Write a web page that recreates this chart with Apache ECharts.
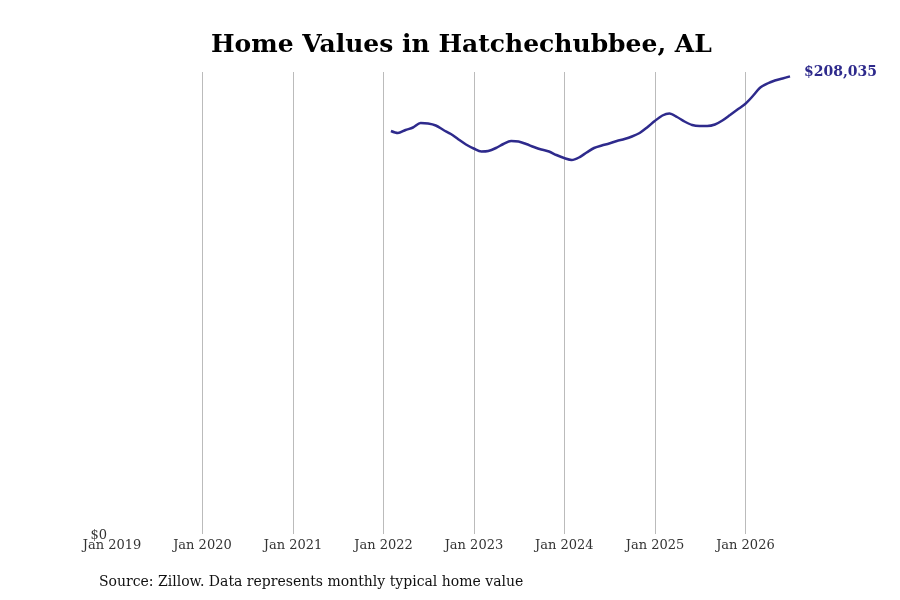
<!DOCTYPE html>
<html>
<head>
<meta charset="utf-8">
<script src="https://cdn.jsdelivr.net/npm/echarts@6/dist/echarts.min.js"></script>
<style>
html,body{margin:0;padding:0;background:#fff;}
#main{width:900px;height:600px;}
</style>
</head>
<body>
<div id="main"></div>
<script>
// month-end dates of the Zillow series
var months = [
  '2022-01-31','2022-02-28','2022-03-31','2022-04-30','2022-05-31','2022-06-30',
  '2022-07-31','2022-08-31','2022-09-30','2022-10-31','2022-11-30','2022-12-31',
  '2023-01-31','2023-02-28','2023-03-31','2023-04-30','2023-05-31','2023-06-30',
  '2023-07-31','2023-08-31','2023-09-30','2023-10-31','2023-11-30','2023-12-31',
  '2024-01-31','2024-02-29','2024-03-31','2024-04-30','2024-05-31','2024-06-30',
  '2024-07-31','2024-08-31','2024-09-30','2024-10-31','2024-11-30','2024-12-31',
  '2025-01-31','2025-02-28','2025-03-31','2025-04-30','2025-05-31','2025-06-30',
  '2025-07-31','2025-08-31','2025-09-30','2025-10-31','2025-11-30','2025-12-31',
  '2026-01-31','2026-02-28','2026-03-31','2026-04-30','2026-05-31','2026-06-30'
];
var homeValues = [
  183182,182273,183636,184773,186818,186591,185682,183636,181818,179318,177045,175227,
  173864,174091,175455,177273,178636,178409,177273,175909,174773,173864,172273,170909,
  170000,171136,173409,175455,176591,177500,178636,179545,180682,182273,184773,187727,
  190227,191136,189545,187500,185909,185455,185455,186136,187955,190455,192955,195455,
  199091,202727,204773,206136,207045,208035
];
// vertical guide lines (no line at the axis start)
var gridYears = ['2020-01-01','2021-01-01','2022-01-01','2023-01-01','2024-01-01','2025-01-01','2026-01-01'];
var xStart = '2019-01-01';
var xEnd = '2026-06-30';
var yMax = 210000;

var seriesData = [];
for (var i = 0; i < months.length; i++) {
  seriesData.push([months[i], homeValues[i]]);
}
var guideLines = [];
for (var j = 0; j < gridYears.length; j++) {
  guideLines.push({xAxis: gridYears[j]});
}

var lineColor = '#2e2a8c';
var serif = '"DejaVu Serif", serif';

var myChart = echarts.init(document.getElementById('main'));
var option = {
  backgroundColor: '#fff',
  animation: false,
  title: {
    text: 'Home Values in Hatchechubbee, AL',
    left: 206,
    top: 28,
    textStyle: {fontFamily: serif, fontSize: 25, fontWeight: 'bold', color: '#000'}
  },
  grid: {left: 112, right: 110, top: 72, bottom: 66, containLabel: false},
  xAxis: {
    type: 'time',
    min: xStart,
    max: xEnd,
    minInterval: 365 * 86400000,
    maxInterval: 366 * 86400000,
    axisLine: {show: false},
    axisTick: {show: false},
    axisLabel: {
      fontFamily: serif, fontSize: 13, color: '#333', margin: 5,
      showMaxLabel: false,
      formatter: function (v) { return 'Jan ' + new Date(v).getFullYear(); }
    },
    splitLine: {show: false}
  },
  yAxis: {
    type: 'value',
    min: 0,
    max: yMax,
    interval: yMax,
    axisLine: {show: false},
    axisTick: {show: false},
    splitLine: {show: false},
    axisLabel: {
      fontFamily: serif, fontSize: 13, color: '#333', margin: 5,
      showMaxLabel: false,
      verticalAlign: 'bottom',
      padding: [0, 0, -8, 0],
      formatter: function (v) { return v === 0 ? '$0' : ''; }
    }
  },
  series: [{
    type: 'line',
    data: seriesData,
    smooth: 0.3,
    showSymbol: false,
    z: 3,
    lineStyle: {color: lineColor, width: 2.5},
    endLabel: {
      show: true,
      formatter: function (p) { return '$' + p.value[1].toLocaleString('en-US'); },
      fontFamily: serif, fontSize: 14, fontWeight: 'bold', color: lineColor,
      distance: 14,
      offset: [0, -4]
    },
    markLine: {
      silent: true,
      symbol: 'none',
      label: {show: false},
      z: 1,
      lineStyle: {color: '#bbb', width: 1, type: 'solid'},
      emphasis: {disabled: true},
      data: guideLines
    }
  }],
  graphic: [{
    type: 'text',
    left: 99,
    top: 575,
    style: {
      text: 'Source: Zillow. Data represents monthly typical home value',
      font: '14px "DejaVu Serif", serif',
      fill: '#111'
    }
  }]
};
myChart.setOption(option);
</script>
</body>
</html>
